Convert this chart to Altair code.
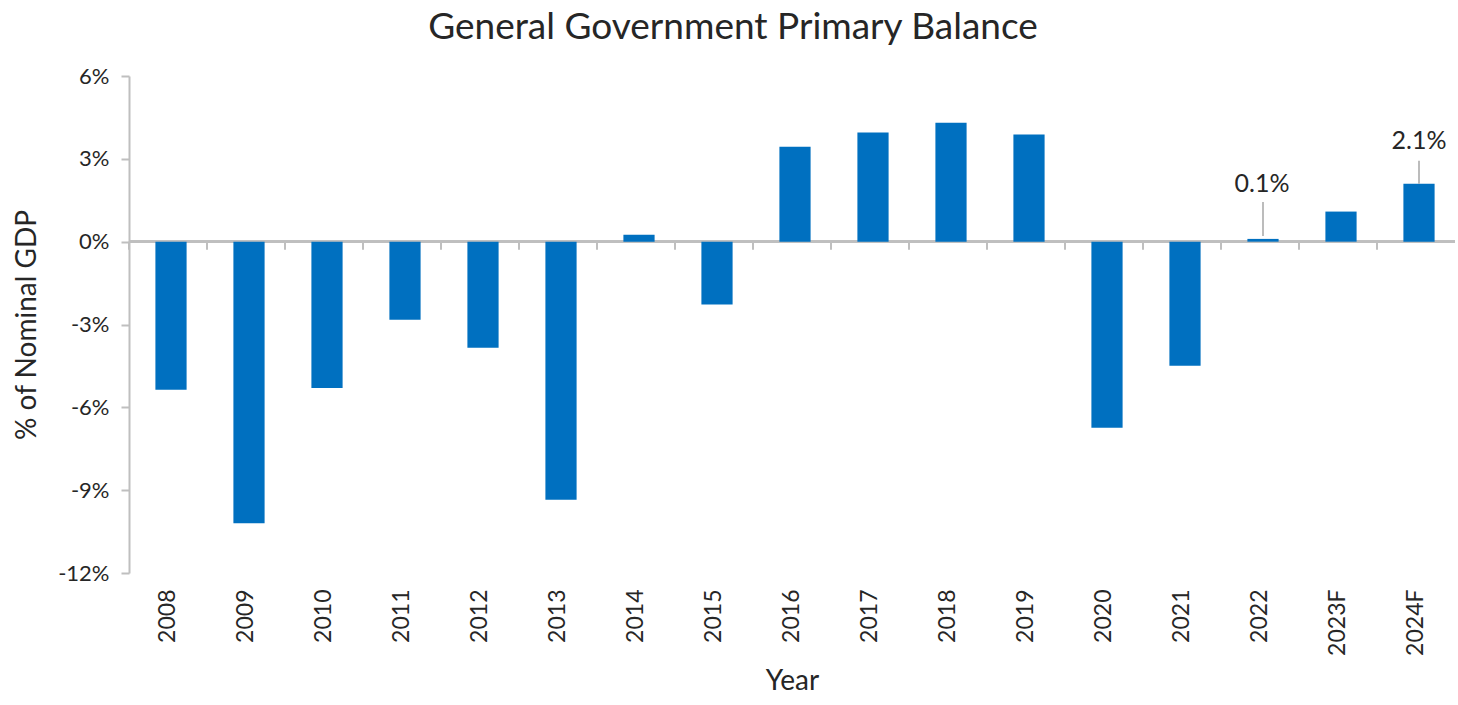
import altair as alt
import pandas as pd

years = ["2008", "2009", "2010", "2011", "2012", "2013", "2014", "2015", "2016",
         "2017", "2018", "2019", "2020", "2021", "2022", "2023F", "2024F"]
balance = [-5.36, -10.2, -5.3, -2.83, -3.84, -9.35, 0.25, -2.28, 3.44,
           3.95, 4.31, 3.88, -6.74, -4.49, 0.1, 1.09, 2.1]
y_ticks = [-12, -9, -6, -3, 0, 3, 6]
ann_years = ["2022", "2024F"]
ann_values = [0.1, 2.1]
ann_texts = ["0.1%", "2.1%"]

df = pd.DataFrame({"Year": years, "Balance": balance})
ann = pd.DataFrame({"Year": ann_years, "Balance": ann_values, "Label": ann_texts})

FONT = "Lato"
GRAY = "#BFBFBF"
TEXT = "#262626"
BLUE = "#0070C0"

x_enc = alt.X("Year:N", sort=years,
              scale=alt.Scale(paddingInner=0, paddingOuter=0),
              axis=alt.Axis(title="Year", labelAngle=270, labelAlign="right", labelBaseline="middle",
                            labelPadding=16, domain=False, ticks=False,
                            labelFontSize=23, titleFontSize=28, titlePadding=12,
                            labelColor=TEXT, titleColor=TEXT, labelFont=FONT, titleFont=FONT,
                            titleFontWeight="normal"))
y_scale = alt.Scale(domain=[-12, 6], nice=False, zero=False)
y_enc = alt.Y("Balance:Q", scale=y_scale,
              axis=alt.Axis(title="% of Nominal GDP", values=y_ticks, grid=False,
                            labelExpr="datum.value + '%'", domainColor=GRAY, domainWidth=2,
                            tickColor=GRAY, tickWidth=2, tickSize=8, labelPadding=12,
                            labelFontSize=22, titleFontSize=28, titlePadding=16,
                            labelColor=TEXT, titleColor=TEXT, labelFont=FONT, titleFont=FONT,
                            titleFontWeight="normal"))

zero = alt.Chart(df).mark_rule(color=GRAY, strokeWidth=2).encode(y=alt.datum(0))

ticks = alt.Chart(df).mark_rule(color=GRAY, strokeWidth=2, xOffset=-39, y2Offset=8).encode(
    x=alt.X("Year:N", sort=years), y=alt.datum(0), y2=alt.datum(0))

bars = alt.Chart(df).mark_bar(color=BLUE, width={"band": 0.4}, xOffset=3).encode(x=x_enc, y=y_enc)

lead_a = alt.Chart(ann[ann.Year == "2022"]).mark_rule(color="#A6A6A6", strokeWidth=1.5, xOffset=3, yOffset=-3, y2Offset=-37).encode(
    x=alt.X("Year:N", sort=years), y="Balance:Q", y2="Balance:Q")
lead_b = alt.Chart(ann[ann.Year == "2024F"]).mark_rule(color="#A6A6A6", strokeWidth=1.5, xOffset=3, yOffset=0, y2Offset=-23).encode(
    x=alt.X("Year:N", sort=years), y="Balance:Q", y2="Balance:Q")
txt_a = alt.Chart(ann[ann.Year == "2022"]).mark_text(font=FONT, fontSize=25, color=TEXT, dy=-55, dx=2).encode(
    x=alt.X("Year:N", sort=years), y="Balance:Q", text="Label:N")
txt_b = alt.Chart(ann[ann.Year == "2024F"]).mark_text(font=FONT, fontSize=25, color=TEXT, dy=-43, dx=3).encode(
    x=alt.X("Year:N", sort=years), y="Balance:Q", text="Label:N")

chart = alt.layer(bars, zero, ticks, lead_a, lead_b, txt_a, txt_b).properties(
    width=1326, height=497,
    background="white",
    title=alt.TitleParams("General Government Primary Balance", font=FONT, fontSize=37,
                          fontWeight="normal", color=TEXT, anchor="middle", dx=-59, offset=18),
    autosize=alt.AutoSizeParams(type="none"),
    padding={"left": 129, "top": 76, "right": 3, "bottom": 132},
).configure_view(stroke="transparent", strokeWidth=0)

# draw the zero line and its ticks beneath the bars
chart.layer = [zero, ticks, bars, lead_a, lead_b, txt_a, txt_b]

chart.save("out.html", embed_options={"renderer": "svg", "actions": False})
